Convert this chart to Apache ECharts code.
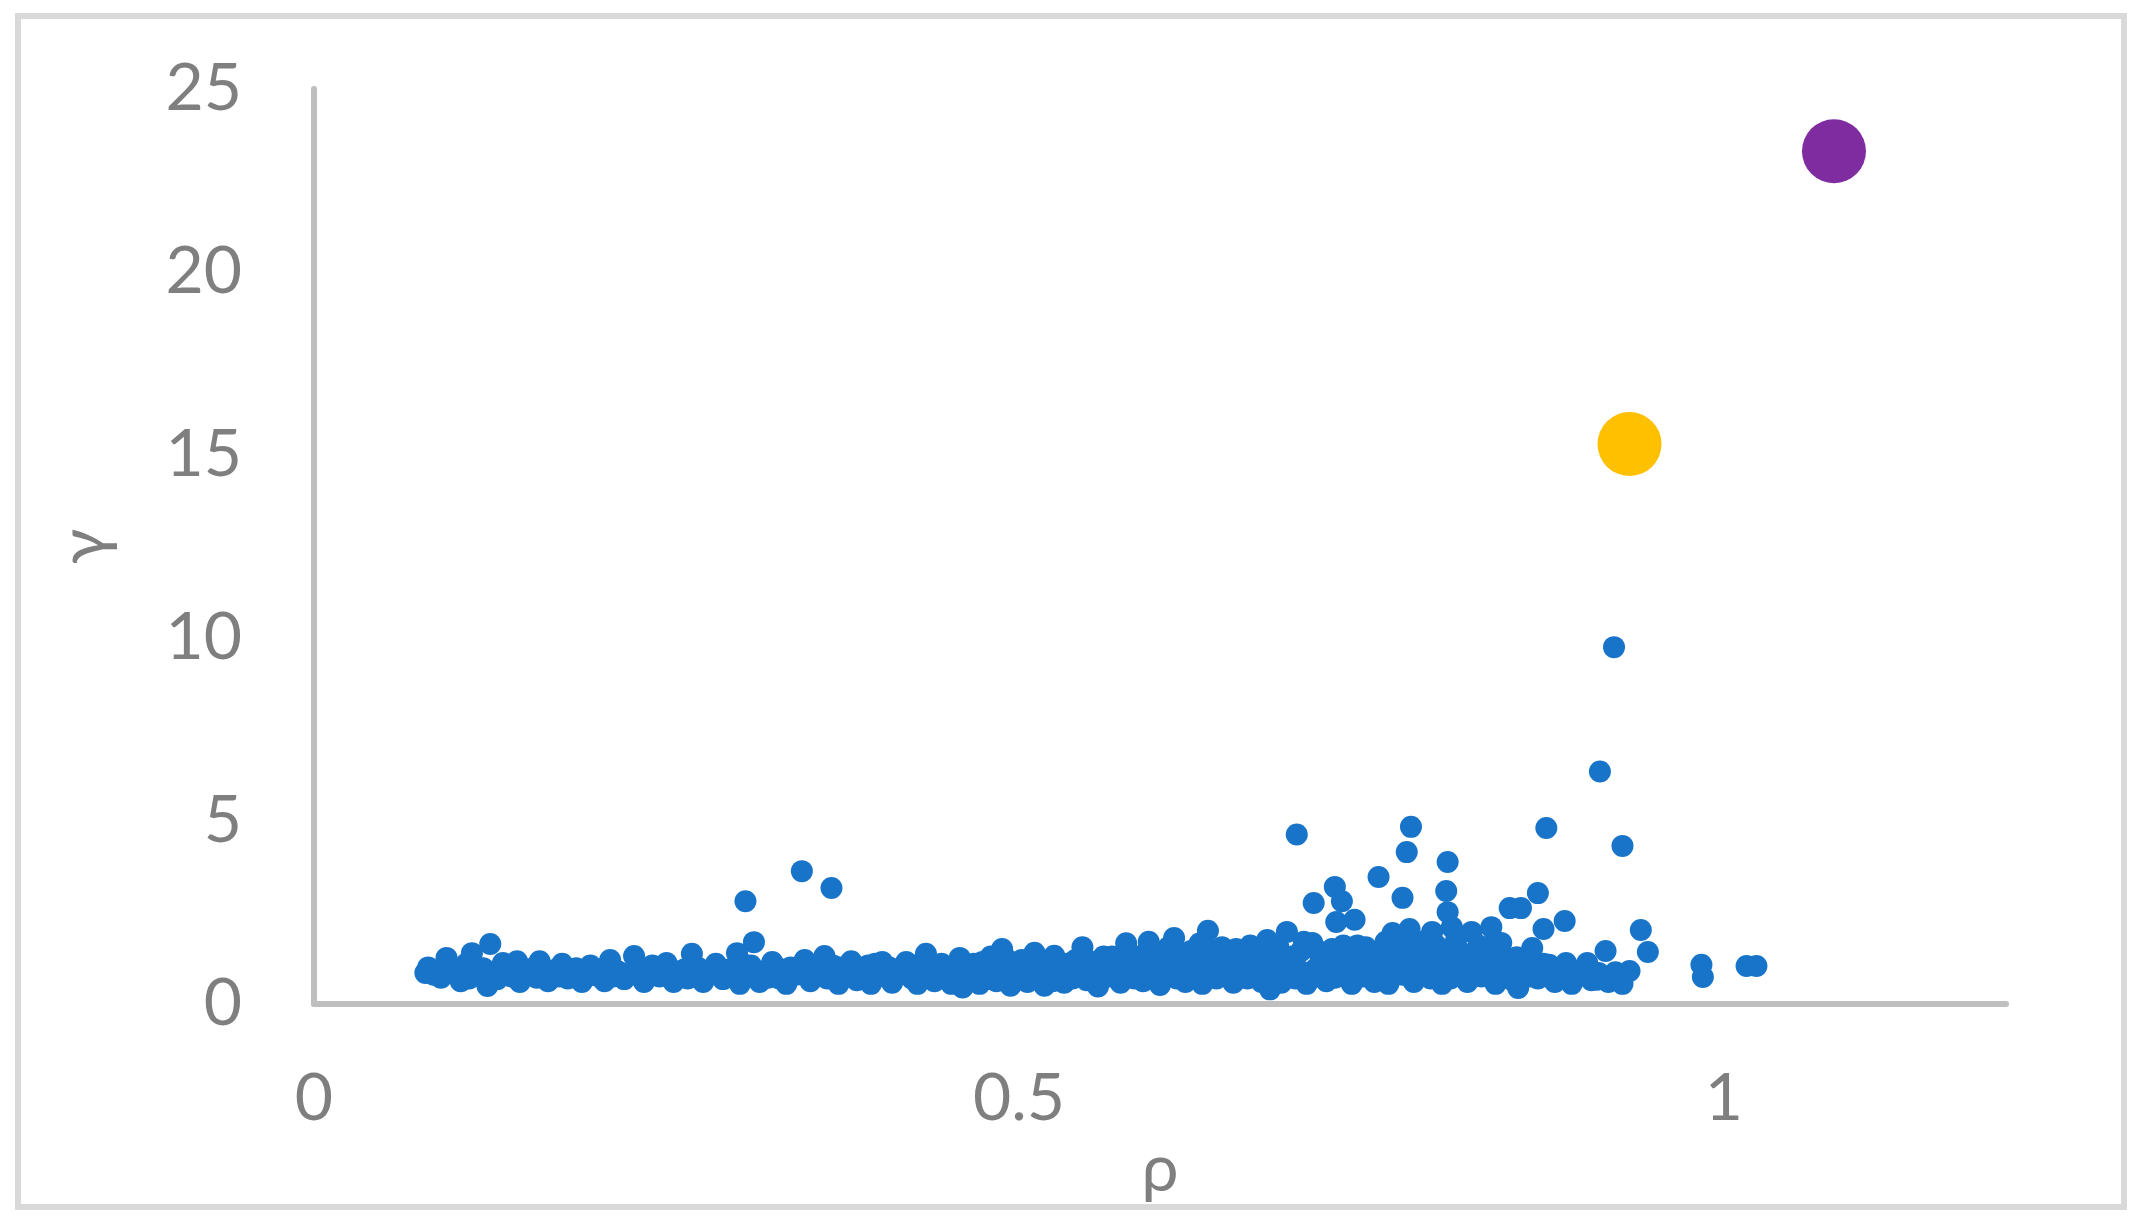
<!DOCTYPE html>
<html>
<head>
<meta charset="utf-8">
<script src="https://cdn.jsdelivr.net/npm/echarts@6/dist/echarts.min.js"></script>
<style>
  html, body { margin: 0; padding: 0; background: #ffffff; }
  #chart { width: 2150px; height: 1230px; }
</style>
</head>
<body>
<div id="chart"></div>
<script>
// ---- data (rho, gamma) ----
const bandLeft = [
  [0.079,0.85],[0.081,1.0],[0.09,0.72],[0.094,1.26],[0.098,0.95],[0.104,0.62],[0.108,1.1],[0.112,1.39],
  [0.116,0.78],[0.12,0.98],[0.125,1.64],[0.123,0.49],[0.13,0.68],[0.134,1.12],[0.138,0.88],[0.144,1.17],
  [0.146,0.6],[0.152,0.95],[0.158,0.72],[0.16,1.17],[0.166,0.62],[0.17,0.92],[0.176,1.1],[0.18,0.7],
  [0.186,0.98],[0.19,0.6],[0.196,1.05],[0.2,0.78],[0.206,0.62],[0.21,1.2],[0.215,0.9],[0.22,0.68],
  [0.227,1.31],[0.23,0.95],[0.234,0.6],[0.24,1.05],[0.245,0.75],[0.25,1.12],[0.255,0.6],[0.26,0.9],
  [0.265,0.7],[0.268,1.37],[0.272,1.0],
  [0.085,0.8],[0.1,0.85],[0.11,0.7],[0.118,0.88],[0.128,0.85],[0.14,0.75],[0.149,0.82],[0.155,0.85],
  [0.163,0.9],[0.174,0.75],[0.183,0.85],[0.193,0.82],[0.203,0.95],[0.212,0.75],[0.218,0.85],[0.225,0.8],
  [0.237,0.85],[0.248,0.9],[0.258,0.8],[0.263,0.95]
];
const bandMidLeft = [
  [0.276,0.6],[0.28,0.85],[0.285,1.1],[0.29,0.68],[0.295,0.95],[0.30,1.39],[0.302,0.55],[0.306,0.8],
  [0.312,1.69],[0.31,1.05],[0.316,0.6],[0.32,0.9],[0.325,1.15],[0.33,0.7],[0.335,0.55],[0.338,1.0],
  [0.342,0.8],[0.348,1.2],[0.352,0.62],[0.356,0.9],[0.362,1.31],[0.364,0.7],[0.368,1.05],[0.372,0.55],
  [0.376,0.85],[0.381,1.17],[0.385,0.65],[0.39,0.95],[0.395,0.55],[0.398,1.1],[0.403,1.15],[0.405,0.75],
  [0.41,0.58],[0.414,0.95],[0.42,1.15],[0.424,0.7],[0.428,0.55],[0.434,1.37],[0.436,0.9],[0.44,0.62],
  [0.445,1.1],[0.448,0.75],
  [0.278,0.75],[0.288,0.9],[0.298,0.75],[0.304,1.1],[0.314,0.85],[0.322,0.72],[0.328,1.0],[0.336,0.82],
  [0.345,0.95],[0.35,0.78],[0.358,1.1],[0.366,0.85],[0.374,1.0],[0.38,0.75],[0.388,0.85],[0.393,1.05],
  [0.4,0.85],[0.408,1.0],[0.418,0.85],[0.426,1.05],[0.432,0.8],[0.438,1.1],[0.442,0.85],[0.447,0.95]
];
const bandMid = [
  [0.452,0.55],[0.455,0.9],[0.458,1.26],[0.46,0.45],[0.464,0.7],[0.468,1.1],[0.472,0.55],[0.476,0.88],
  [0.48,1.3],[0.484,0.62],[0.488,1.5],[0.49,1.0],[0.494,0.5],[0.498,0.78],[0.502,1.2],[0.506,0.6],
  [0.511,1.4],[0.514,0.9],[0.518,0.5],[0.522,0.72],[0.525,1.32],[0.528,1.05],[0.532,0.58],[0.536,0.85],
  [0.54,1.2],[0.545,1.55],[0.548,0.65],[0.552,0.95],[0.556,0.48],[0.56,1.3],[0.564,0.75],[0.568,1.05],
  [0.572,0.58],[0.576,1.66],[0.58,0.9],[0.584,1.25],[0.588,0.62],[0.592,1.7],[0.596,1.0],[0.6,0.52],
  [0.604,1.35],[0.608,0.8],[0.61,1.8],[0.614,1.1],[0.618,0.6],[0.622,1.45],[0.626,0.85],[0.63,0.55],
  [0.634,2.0],[0.636,1.2],[0.64,0.7],[0.644,1.55],[0.648,1.0],[0.652,0.58],[0.656,1.3],[0.66,0.82],
  [0.664,1.6],[0.668,1.1],[0.672,0.6],
  [0.454,0.72],[0.462,1.0],[0.466,0.85],[0.47,0.7],[0.474,1.15],[0.478,0.68],[0.482,1.0],[0.486,0.82],
  [0.492,1.2],[0.496,0.68],[0.5,0.95],[0.504,0.8],[0.508,1.1],[0.512,0.7],[0.516,1.15],[0.52,0.9],
  [0.524,0.62],[0.53,0.8],[0.534,1.1],[0.538,0.7],[0.542,0.95],[0.546,1.3],[0.55,0.78],[0.554,1.15],
  [0.558,0.72],[0.562,0.95],[0.566,1.3],[0.57,0.82],[0.574,1.15],[0.578,1.4],[0.582,0.7],[0.586,1.0],
  [0.59,1.4],[0.594,0.8],[0.598,1.2],[0.602,0.9],[0.606,1.55],[0.612,0.7],[0.616,1.3],[0.62,0.95],
  [0.624,1.15],[0.628,1.65],[0.632,0.8],[0.638,1.45],[0.642,0.92],[0.646,1.25],[0.65,0.75],[0.654,1.5],
  [0.658,1.05],[0.662,0.7],[0.666,1.35],[0.67,0.9],[0.674,1.2]
];
const bandRight = [
  [0.676,1.75],[0.678,0.9],[0.678,0.4],[0.682,1.3],[0.686,0.58],[0.69,1.97],[0.692,1.05],[0.696,0.7],
  [0.7,1.45],[0.704,0.55],[0.708,1.67],[0.71,0.95],[0.714,1.2],[0.718,0.62],[0.722,1.5],[0.725,2.24],
  [0.728,0.85],[0.732,1.1],[0.736,0.55],[0.738,2.3],[0.74,1.6],[0.744,0.75],[0.748,1.3],[0.752,0.6],
  [0.756,1.0],[0.76,1.7],[0.762,0.55],[0.765,1.94],[0.768,1.2],[0.772,0.8],[0.776,1.5],[0.777,2.05],
  [0.78,0.6],[0.784,1.05],[0.788,1.35],[0.792,0.7],[0.793,1.97],[0.796,1.6],[0.8,0.55],[0.804,1.15],
  [0.807,2.1],[0.81,0.85],[0.814,1.4],[0.818,0.6],[0.821,1.97],[0.824,1.1],[0.828,0.75],[0.832,1.55],
  [0.835,2.1],[0.838,0.55],[0.842,1.67],[0.845,0.95],[0.85,0.65],[0.853,1.28],[0.854,0.44],[0.86,0.9],
  [0.864,1.53],[0.868,0.7],[0.872,1.1],[0.876,1.07],[0.88,0.6],[0.883,0.74],[0.888,1.12],[0.892,0.55],
  [0.896,0.9],[0.903,1.12],[0.906,0.65],[0.91,0.66],[0.911,0.85],[0.916,1.45],[0.918,0.6],[0.923,0.87],
  [0.928,0.55],
  [0.68,0.65],[0.684,1.55],[0.688,0.85],[0.694,1.3],[0.698,0.95],[0.702,1.7],[0.706,0.78],[0.712,1.45],
  [0.716,0.95],[0.72,1.25],[0.724,0.72],[0.73,1.6],[0.734,0.95],[0.738,1.3],[0.742,1.05],[0.746,1.55],
  [0.75,0.8],[0.754,1.35],[0.758,0.72],[0.764,1.25],[0.766,0.95],[0.77,1.65],[0.774,1.1],[0.78,1.35],
  [0.782,0.85],[0.786,1.7],[0.79,1.0],[0.794,1.25],[0.798,0.85],[0.802,1.45],[0.806,0.7],[0.81,1.75],
  [0.812,1.1],[0.816,1.25],[0.82,0.8],[0.826,1.6],[0.83,0.95],[0.834,1.3],[0.84,0.8],[0.844,1.2],
  [0.848,0.8],[0.858,1.1],[0.862,0.75],[0.866,0.9],[0.87,0.85],[0.878,0.9],[0.886,0.8],[0.894,0.75],
  [0.9,0.8],[0.908,0.75],[0.914,0.7]
];
const outliers = [
  [0.306,2.81],[0.346,3.63],[0.367,3.17],[0.697,4.63],[0.709,2.76],[0.724,3.2],[0.729,2.81],[0.755,3.47],
  [0.772,2.9],[0.775,4.15],[0.778,4.84],[0.803,3.09],[0.804,3.88],[0.804,2.51],[0.848,2.62],[0.856,2.62],
  [0.868,3.03],[0.872,2.05],[0.874,4.81],[0.887,2.27],[0.912,6.35],[0.922,9.75],[0.928,4.32],[0.941,2.02],
  [0.946,1.42],[0.933,0.9],[0.984,1.07],[0.985,0.74],[1.016,1.04],[1.023,1.04]
];
const highlightYellow = [[0.933, 15.3]];
const highlightPurple = [[1.078, 23.3]];

const xTicks = [0, 0.5, 1];
const yTicks = [0, 5, 10, 15, 20, 25];
const xName = 'ρ';
const yName = 'γ';

const blueSeries = bandLeft.concat(bandMidLeft, bandMid, bandRight, outliers);

const FONT = 'Lato, "Open Sans", sans-serif';
const GREY = '#7f7f7f';

const chart = echarts.init(document.getElementById('chart'), null, { renderer: 'canvas' });
chart.setOption({
  animation: false,
  backgroundColor: '#ffffff',
  graphic: [{
    type: 'rect',
    shape: { x: 18, y: 16, width: 2106, height: 1191 },
    style: { fill: 'none', stroke: '#d9d9d9', lineWidth: 6 },
    silent: true
  }],
  grid: { left: 314, top: 89, right: 144, bottom: 226, containLabel: false },
  xAxis: {
    type: 'value', min: 0, max: 1.2, interval: 0.5,
    name: xName, nameLocation: 'middle', nameGap: 126,
    nameTextStyle: { fontFamily: FONT, fontSize: 66, color: GREY, verticalAlign: 'middle' },
    axisLine: { show: true, onZero: false, lineStyle: { color: '#bfbfbf', width: 6 } },
    axisTick: { show: false },
    splitLine: { show: false },
    axisLabel: {
      margin: 62, fontFamily: FONT, fontSize: 66, color: GREY, showMaxLabel: false,
      formatter: v => (xTicks.indexOf(Math.round(v * 10) / 10) >= 0 ? String(Math.round(v * 10) / 10) : '')
    }
  },
  yAxis: {
    type: 'value', min: 0, max: 25, interval: 5,
    name: yName, nameLocation: 'middle', nameGap: 229,
    nameTextStyle: { fontFamily: FONT, fontSize: 66, color: GREY, verticalAlign: 'middle' },
    axisLine: { show: true, onZero: false, lineStyle: { color: '#bfbfbf', width: 6 } },
    axisTick: { show: false },
    splitLine: { show: false },
    axisLabel: {
      margin: 72, fontFamily: FONT, fontSize: 66, color: GREY,
      formatter: v => (yTicks.indexOf(v) >= 0 ? String(v) : '')
    }
  },
  series: [
    {
      type: 'scatter', data: blueSeries, symbol: 'circle', symbolSize: 22,
      itemStyle: { color: '#1874c8', opacity: 1 }, silent: true, z: 2
    },
    {
      type: 'scatter', data: highlightYellow, symbol: 'circle', symbolSize: 64,
      itemStyle: { color: '#ffc000', opacity: 1 }, silent: true, z: 3
    },
    {
      type: 'scatter', data: highlightPurple, symbol: 'circle', symbolSize: 64,
      itemStyle: { color: '#7f2ca1', opacity: 1 }, silent: true, z: 3
    }
  ]
});
</script>
</body>
</html>
